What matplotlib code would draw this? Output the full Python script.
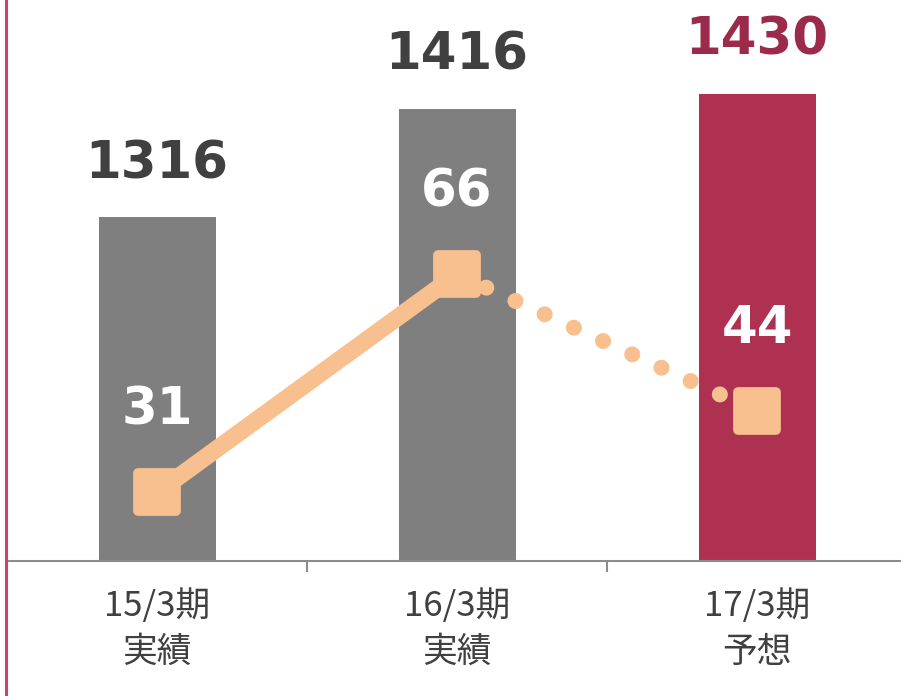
import matplotlib
matplotlib.use("Agg")
import matplotlib.pyplot as plt
from matplotlib.lines import Line2D
from matplotlib.markers import MarkerStyle

# data
categories = ["15/3期\n実績", "16/3期\n実績", "17/3期\n予想"]
sales = [1316, 1416, 1430]
profit = [31, 66, 44]
bar_colors = ["#7f7f7f", "#7f7f7f", "#ae3152"]
sales_label_colors = ["#404040", "#404040", "#9c2a4b"]

ORANGE = "#f9c08f"
TEXT = "#404040"

fig = plt.figure(figsize=(9.01, 6.96), dpi=100)
ax = fig.add_axes([7 / 901, (696 - 561) / 696, 900 / 901, 561 / 696])
x = list(range(len(categories)))

ax.bar(x, sales, width=0.39, color=bar_colors, zorder=2)
ax.set_xlim(-0.5, 2.5)
ax.set_ylim(1000, 1516)
ax.set_yticks([])
for s in ["top", "right", "left"]:
    ax.spines[s].set_visible(False)
ax.spines["bottom"].set_color("#8c8c8c")
ax.spines["bottom"].set_linewidth(1.5)

ax.set_xticks(x)
ax.set_xticklabels(categories, fontsize=25, color=TEXT,
                   family=["Noto Sans CJK JP", "DejaVu Sans"], linespacing=1.4)
ax.tick_params(axis="x", which="major", length=0, pad=20)
ax.set_xticks([-0.5, 0.5, 1.5, 2.5], minor=True)
ax.tick_params(axis="x", which="minor", length=8, width=1.5, color="#8c8c8c")

for xi, v, c in zip(x, sales, sales_label_colors):
    ax.annotate(str(v), (xi, v), xytext=(0, 28), textcoords="offset points",
                ha="center", va="baseline", fontsize=37, fontweight="bold",
                color=c, family="DejaVu Sans")

# secondary axis for the line
ax2 = ax.twinx()
ax2.set_ylim(20, 110)
ax2.set_yticks([])
for s in ["top", "right", "left", "bottom"]:
    ax2.spines[s].set_visible(False)

ax2.plot(x[:2], profit[:2], color=ORANGE, lw=12.5, solid_capstyle="butt", zorder=3)
ax2.plot(x[1:], profit[1:], color=ORANGE, lw=11.5, linestyle=(0, (0.01, 2.0)),
         dash_capstyle="round", zorder=3)
ax2.plot(x, profit, ls="none", marker=MarkerStyle("s", joinstyle="round"),
         ms=28, mew=7, color=ORANGE, mec=ORANGE, zorder=4)

for xi, v in zip(x, profit):
    ax2.annotate(str(v), (xi, v), xytext=(0, 49), textcoords="offset points",
                 ha="center", va="baseline", fontsize=37, fontweight="bold",
                 color="white", family="DejaVu Sans", zorder=5)

# decorative left border
fig.add_artist(Line2D([5.5 / 901, 5.5 / 901], [0, 1], transform=fig.transFigure,
                      color="#c8446c", lw=2.2))

fig.savefig("out.png", dpi=100)
